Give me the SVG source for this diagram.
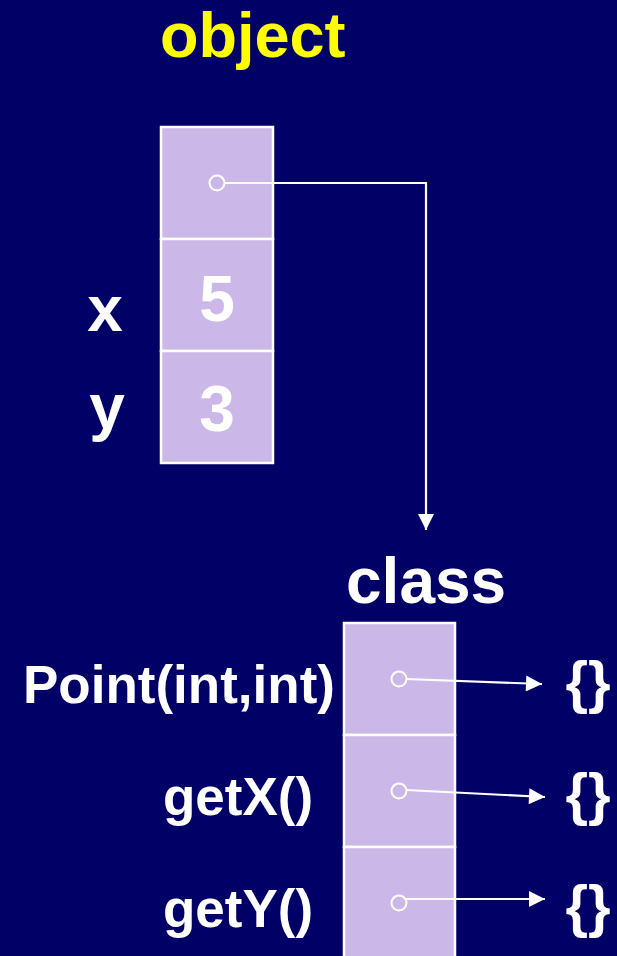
<svg xmlns="http://www.w3.org/2000/svg" width="617" height="956" viewBox="0 0 617 956">
<defs>
<style>
.cell{fill:#CBB8E9;stroke:#FFFFFF;stroke-width:2.5}
.dot{fill:none;stroke:#FFFFFF;stroke-width:2}
.t{font-family:"Liberation Sans",Arial,sans-serif;font-weight:bold;fill:#FFFFFF}
.h{font-size:64px}
.lbl{font-size:53px}
.conn{fill:none;stroke:#FFFFFF;stroke-width:2.2}
</style>
<marker id="ah" viewBox="0 0 16 16" refX="16" refY="8" markerWidth="17" markerHeight="16" markerUnits="userSpaceOnUse" orient="auto">
<path d="M0,0 L16,8 L0,16 Z" fill="#FFFFFF"/>
</marker>
</defs>
<rect width="617" height="956" fill="#000066"/>
<g id="object-title"><text class="t" x="160" y="57" font-size="63" style="fill:#FFFF00">object</text></g>
<g id="object">
<rect class="cell" x="161" y="127" width="112" height="112"/>
<rect class="cell" x="161" y="239" width="112" height="112"/>
<rect class="cell" x="161" y="351" width="112" height="112"/>
<circle class="dot" cx="217" cy="183" r="7.5"/>
<text class="t h" x="217" y="321" text-anchor="middle">5</text>
<text class="t h" x="217" y="431" text-anchor="middle">3</text>
</g>
<g id="label-x"><text class="t h" x="105" y="331" text-anchor="middle">x</text></g>
<g id="label-y"><text class="t h" x="107" y="429" text-anchor="middle">y</text></g>
<g id="class-title"><text class="t h" x="346" y="603">class</text></g>
<g id="class">
<rect class="cell" x="344" y="623" width="111" height="112"/>
<rect class="cell" x="344" y="735" width="111" height="112"/>
<rect class="cell" x="344" y="847" width="111" height="112"/>
<circle class="dot" cx="399" cy="679" r="7.5"/>
<circle class="dot" cx="399" cy="791" r="7.5"/>
<circle class="dot" cx="399" cy="903" r="7.5"/>
</g>
<g id="label-point"><text class="t lbl" x="23" y="703">Point(int,int)</text></g>
<g id="label-getx"><text class="t lbl" x="163" y="815">getX()</text></g>
<g id="label-gety"><text class="t lbl" x="163" y="927">getY()</text></g>
<g id="body1"><text class="t" x="588" y="702" text-anchor="middle" font-size="58">{}</text></g>
<g id="body2"><text class="t" x="588" y="814" text-anchor="middle" font-size="58">{}</text></g>
<g id="body3"><text class="t" x="588" y="926" text-anchor="middle" font-size="58">{}</text></g>
<g id="connectors">
<path class="conn" d="M224.5,183 H426 V530" marker-end="url(#ah)"/>
<path class="conn" d="M406,679 L542,684" marker-end="url(#ah)"/>
<path class="conn" d="M406,790 L545,797" marker-end="url(#ah)"/>
<path class="conn" d="M406,899 L545,899" marker-end="url(#ah)"/>
</g>
</svg>
